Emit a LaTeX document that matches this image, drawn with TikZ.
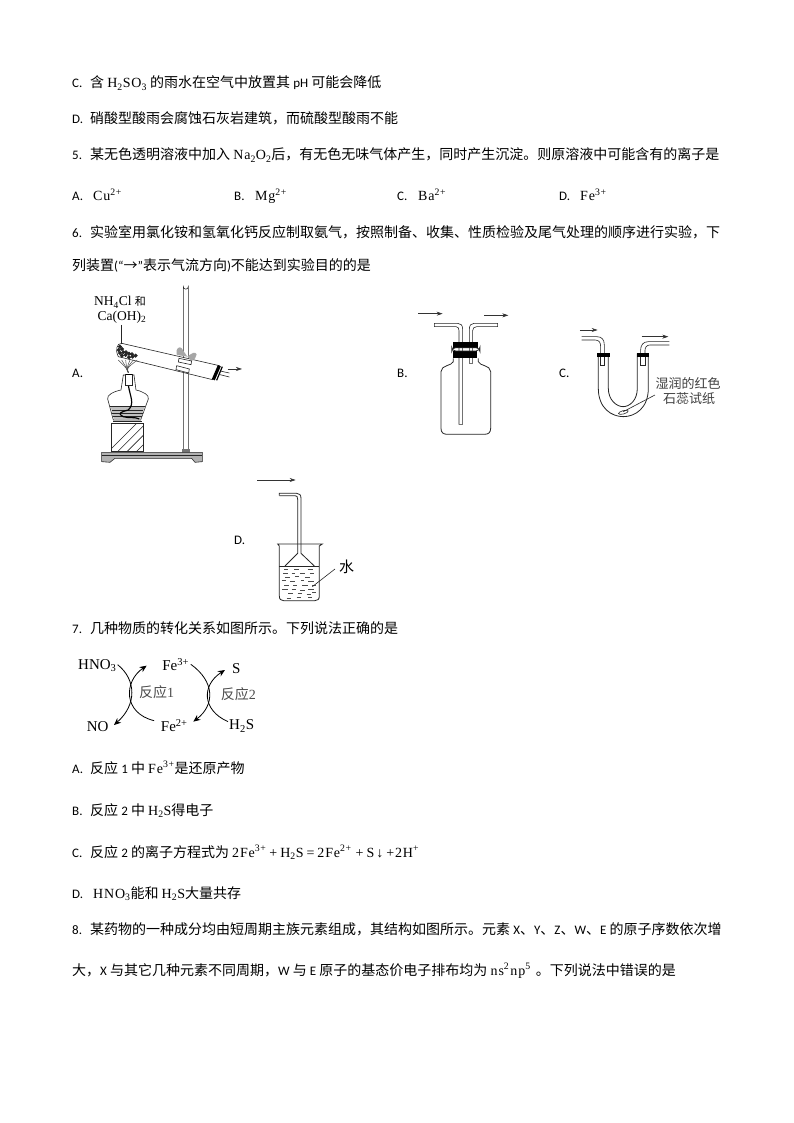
\documentclass[tikz,border=0pt]{standalone}
\usepackage{fontspec}
\usetikzlibrary{arrows.meta}
\setmainfont{Noto Sans CJK SC}
\newfontfamily\latf{Carlito}
\newfontfamily\chemf[LetterSpace=6]{Liberation Serif}
\newfontfamily\figf{Liberation Serif}
\newcommand\lab[1]{\makebox[18pt][l]{\latf\fontsize{13}{15}\selectfont #1}}
\newcommand\la[1]{{\latf\fontsize{13}{15}\selectfont #1}}
\newcommand\ch[1]{{\chemf #1}}
\newcommand\sbs[1]{\textsubscript{#1}}
\newcommand\sps[1]{\textsuperscript{#1}}
\tikzset{
  txt/.style={anchor=base west,inner sep=0pt,font=\fontsize{14}{16}\selectfont},
  optlab/.style={anchor=base west,inner sep=0pt,font=\latf\fontsize{13}{15}\selectfont},
  figtxt/.style={inner sep=0pt,font=\figf\fontsize{13.5}{14}\selectfont},
  cyctxt/.style={inner sep=0pt,font=\figf\fontsize{15}{16}\selectfont},
  smallcn/.style={inner sep=0pt,text=black!75,font=\fontsize{13}{13}\selectfont},
  ln/.style={line width=0.6pt,black!85},
  flow/.style={line width=0.6pt,black!80,-{Stealth[length=6pt,width=4pt]}},
  cyc/.style={line width=0.8pt,black,-{Stealth[length=7pt,width=6pt]}},
}
\begin{document}
\begin{tikzpicture}[x=1pt,y=-1pt]
\useasboundingbox (0,0) rectangle (794,1123);
\fill[white] (0,0) rectangle (794,1123);
% ---------- text lines
\node[txt] (t1) at (72,88) {\lab{C.}含 \ch{H\sbs{2}SO\sbs{3}} 的雨水在空气中放置其 \la{pH} 可能会降低};
\node[txt] (t2) at (72,124) {\lab{D.}硝酸型酸雨会腐蚀石灰岩建筑，而硫酸型酸雨不能};
\node[txt] (t3) at (72,160) {\lab{5.}某无色透明溶液中加入 \ch{Na\sbs{2}O\sbs{2}}后，有无色无味气体产生，同时产生沉淀。则原溶液中可能含有的离子是};
\node[txt] (o1) at (72,201) {\lab{A.}\hspace{3pt}\ch{Cu\sps{2+}}};
\node[txt] (o2) at (234,201) {\lab{B.}\hspace{3pt}\ch{Mg\sps{2+}}};
\node[txt] (o3) at (397,201) {\lab{C.}\hspace{3pt}\ch{Ba\sps{2+}}};
\node[txt] (o4) at (559,201) {\lab{D.}\hspace{3pt}\ch{Fe\sps{3+}}};
\node[txt] (t4) at (72,237) {\lab{6.}实验室用氯化铵和氢氧化钙反应制取氨气，按照制备、收集、性质检验及尾气处理的顺序进行实验，下};
\node[txt] (t5) at (72,270) {列装置\la{(“}→\la{”}表示气流方向\la{)}不能达到实验目的的是};
\node[txt] (t6) at (72,633) {\lab{7.}几种物质的转化关系如图所示。下列说法正确的是};
\node[txt] (t7) at (72,773) {\lab{A.}反应 \la{1} 中 \ch{Fe\sps{3+}}是还原产物};
\node[txt] (t8) at (72,815) {\lab{B.}反应 \la{2} 中 \ch{H\sbs{2}S}得电子};
\node[txt] (t9) at (72,857) {\lab{C.}反应 \la{2} 的离子方程式为 \ch{2Fe\sps{3+}\hspace{3pt}+\hspace{3pt}H\sbs{2}S\hspace{3pt}=\hspace{3pt}2Fe\sps{2+}\hspace{4pt}+\hspace{3pt}S\hspace{2pt}↓\hspace{3pt}+2H\sps{+}}};
\node[txt] (t10) at (72,898) {\lab{D.}\hspace{3pt}\ch{HNO\sbs{3}}能和 \ch{H\sbs{2}S}大量共存};
\node[txt] (t11) at (72,934) {\lab{8.}某药物的一种成分均由短周期主族元素组成，其结构如图所示。元素 \la{X}、\la{Y}、\la{Z}、\la{W}、\la{E} 的原子序数依次增};
\node[txt] (t12) at (72,975) {大，\la{X} 与其它几种元素不同周期，\la{W} 与 \la{E} 原子的基态价电子排布均为 \ch{n\hspace{1pt}s\sps{2}\hspace{1pt}n\hspace{1pt}p\sps{5}} \hspace{2pt}。下列说法中错误的是};
% ---------- apparatus A
\node[optlab] (la) at (72,377) {A.};
\begin{scope}[shift={(60,275)},scale=0.3333]
  % stand
  \filldraw[ln,fill=white] (370,525) -- (370,35) arc[start angle=180,end angle=0,radius=7.5] -- (385,525);
  \fill[black!55] (366,522) rectangle (389,533);
  \filldraw[ln,fill=black!30] (125,532) -- (427,532) -- (427,560) -- (405,562) -- (395,550) -- (165,550) -- (150,562) -- (125,560) -- cycle;
  \draw[ln] (125,542) -- (427,542);
  % block
  \begin{scope}
    \clip (155,445) rectangle (250,530);
    \foreach \d in {0,28,...,200} \draw[ln] (140+\d,535) -- (140+\d+110,425);
  \end{scope}
  \draw[ln,line width=0.9pt] (155,445) rectangle (250,530);
  % lamp
  \filldraw[ln,fill=white] (183,345) -- (190,300) -- (222,300) -- (228,345) .. controls (250,350) and (268,360) .. (265,372) -- (242,435) -- (160,435) -- (143,372) .. controls (140,360) and (160,350) .. (183,345) -- cycle;
  \fill[black!25] (152,395) -- (254,395) -- (242,433) -- (162,433) -- cycle;
  \foreach \yy/\a/\b in {395/150/255,405/155/250,415/157/248,425/160/245} \draw[ln] (\a,\yy) -- (\b,\yy);
  \draw[ln] (160,440) -- (245,440);
  \draw[line width=1.2pt] (205,330) .. controls (210,365) and (225,385) .. (205,405) .. controls (185,410) and (170,415) .. (190,425) .. controls (205,430) and (225,425) .. (238,432);
  \filldraw[ln,fill=white] (197,298) rectangle (217,330);
  \fill[black] (197,296) rectangle (217,300);
  % test tube
  \filldraw[ln,fill=white] (185,205) -- (478,272) -- (458,314) -- (175,245) .. controls (165,225) and (170,205) .. (185,205) -- cycle;
  % flame
  \foreach \tx in {175,185,197,210,220,232} \draw[line width=0.5pt,black!70] (205,293) .. controls (200,280) .. (\tx,255);
  \foreach \bx/\by in {180/215,176/225,186/222,180/234,190/232,186/242,197/240,207/236,207/247,218/245,216/238,227/242,198/232} \filldraw[fill=white,line width=0.6pt,black!85] (\bx,\by) circle[radius=5];
  % stopper and outlet
  \draw[line width=3.2pt] (478,272) -- (460,314);
  \draw[line width=1.2pt] (487,275) -- (470,316);
  \draw[ln] (480,288) -- (508,294);
  \draw[ln] (476,298) -- (508,306);
  % clamp
  \fill[black!35] (350,238) .. controls (345,220) and (360,212) .. (365,220) .. controls (372,232) .. (382,245) -- (352,240) -- cycle;
  \fill[black!35] (382,245) .. controls (395,235) and (405,228) .. (410,238) .. controls (410,248) and (402,255) .. (395,258) -- cycle;
  \filldraw[ln,fill=white] (357,250) -- (395,258) -- (393,269) -- (355,261) -- cycle;
  \filldraw[ln,fill=white] (350,272) -- (388,282) -- (386,294) -- (348,284) -- cycle;
  \coordinate (aArrS) at (503,282); \coordinate (aArrE) at (546,282);
  \draw[flow] (aArrS) -- (aArrE);
  \coordinate (aLeadT) at (185,150); \coordinate (aLeadB) at (185,207);
  \draw[ln] (aLeadT) -- (aLeadB);
  \node[figtxt] (aT1) at (180,82) {NH\sbs{4}Cl {\fontspec{Noto Sans CJK SC}\fontsize{11}{12}\selectfont 和}};
  \node[figtxt] (aT2) at (186,127) {Ca(OH)\sbs{2}};
\end{scope}
% ---------- apparatus B, C
\node[optlab] (lb) at (397,377) {B.};
\node[optlab] (lc) at (559,377) {C.};
\begin{scope}[shift={(390,300)},scale=0.3333]
  \draw[flow] (85,41) -- (158,41);
  \draw[flow] (283,46) -- (355,46);
  \draw[ln,line width=0.8pt] (190,175) -- (190,185) .. controls (185,198) and (153,195) .. (153,215) -- (153,385) .. controls (153,398) and (160,403) .. (172,403) -- (283,403) .. controls (295,403) and (302,398) .. (302,385) -- (302,215) .. controls (302,195) and (268,198) .. (265,185) -- (265,175);
  \filldraw[ln,fill=white] (218,373) -- (218,88) .. controls (218,75) and (212,70) .. (203,70) -- (133,70) -- (133,80) -- (198,80) .. controls (205,80) and (207,85) .. (207,92) -- (207,373) -- cycle;
  \filldraw[ln,fill=white] (248,190) -- (248,92) .. controls (248,85) and (252,80) .. (260,80) -- (323,80) -- (323,70) -- (252,70) .. controls (243,70) and (238,76) .. (238,88) -- (238,190) -- cycle;
  \fill[black] (190,125) rectangle (265,143);
  \fill[black] (190,153) rectangle (262,175);
  \draw[ln,rounded corners=4pt,line width=0.8pt] (185,143) rectangle (270,153);
  % C
  \draw[flow] (570,90) -- (623,90);
  \draw[flow] (755,110) -- (835,110);
  \draw[ln,line width=0.8pt] (625,160) -- (625,265) .. controls (625,325) and (665,350) .. (700,350) .. controls (735,350) and (775,325) .. (775,265) -- (775,160);
  \draw[ln,line width=0.8pt] (655,160) -- (655,265) .. controls (655,300) and (680,320) .. (699,320) .. controls (720,320) and (742,300) .. (742,265) -- (742,160);
  \draw[ln] (575,110) -- (620,110) .. controls (635,110) and (643,118) .. (643,135) -- (643,160);
  \draw[ln] (575,120) -- (615,120) .. controls (628,120) and (632,128) .. (632,140) -- (632,160);
  \draw[ln] (838,125) -- (775,125) .. controls (760,125) and (752,135) .. (752,150) -- (752,160);
  \draw[ln] (838,135) -- (780,135) .. controls (770,135) and (765,142) .. (765,152) -- (765,160);
  \fill[black] (622,160) rectangle (660,170);
  \fill[black] (740,160) rectangle (777,170);
  \draw[ln] (632,170) -- (632,195) -- (643,195) -- (643,170);
  \draw[ln] (752,170) -- (752,195) -- (765,195) -- (765,170);
  \draw[ln,rotate around={15:(700,337)}] (700,337) ellipse[x radius=15,y radius=5];
  \coordinate (cLeadA) at (700,335); \coordinate (cLeadB) at (795,285);
  \draw[ln] (cLeadA) -- (cLeadB);
\end{scope}
\node[smallcn] (c1) at (688,384) {湿润的红色};
\node[smallcn] (c2) at (689,399) {石蕊试纸};
% ---------- apparatus D
\node[optlab] (ld) at (234,544) {D.};
\begin{scope}[shift={(225,470)},scale=0.3333]
  \draw[flow] (97,30) -- (212,30);
  \draw[ln,line width=0.8pt] (163,77) -- (163,70) -- (215,70) .. controls (224,70) and (228,75) .. (228,85) -- (228,250) -- (268,288);
  \draw[ln,line width=0.8pt] (163,77) -- (210,77) .. controls (216,77) and (218,80) .. (218,88) -- (218,250) -- (180,288);
  \draw[ln,line width=0.8pt] (158,222) -- (163,228) -- (163,378) .. controls (163,388) and (168,392) .. (176,392) -- (270,392) .. controls (278,392) and (283,388) .. (283,378) -- (283,228) -- (292,222) -- cycle;
  \draw[ln,line width=0.8pt] (163,288) -- (283,288);
  \foreach \xa/\yy/\w in {178/298/12,208/298/14,248/298/16,175/310/14,200/310/10,225/310/16,255/310/12,180/322/16,210/320/12,240/322/14,170/332/12,195/334/16,228/332/10,250/334/18,178/346/14,205/346/12,232/346/16,262/346/12,172/358/16,200/358/12,225/360/14,250/358/16,190/370/14,218/370/12,245/372/14,262/368/12,185/384/12,215/382/14,250/382/12}
    \draw[line width=0.7pt,black!70] (\xa,\yy) -- (\xa+\w,\yy);
  \coordinate (dLeadA) at (262,350); \coordinate (dLeadB) at (330,297);
  \draw[ln] (dLeadA) -- (dLeadB);
  \node[inner sep=0pt,font=\fontsize{15}{16}\selectfont] (dT) at (365,291) {水};
\end{scope}
% ---------- cycle diagram
\begin{scope}[shift={(65,650)},scale=0.3333]
  \node[cyctxt] (hno) at (97,47) {HNO\sbs{3}};
  \node[cyctxt] (fe3) at (332,43) {Fe\sps{3+}};
  \node[cyctxt] (s) at (514,56) {S};
  \node[cyctxt] (no) at (98,230) {NO};
  \node[cyctxt] (fe2) at (328,227) {Fe\sps{2+}};
  \node[cyctxt] (h2s) at (530,228) {H\sbs{2}S};
  \node[inner sep=0pt,text=black!70,font=\fontsize{14}{15}\selectfont] (r1) at (275,128) {反应{\figf 1}};
  \node[inner sep=0pt,text=black!70,font=\fontsize{14}{15}\selectfont] (r2) at (520,134) {反应{\figf 2}};
  \draw[cyc] (hno.east) ++(3,-3) .. controls (215,90) and (215,165) .. (147,225);
  \draw[cyc] (fe2.west) ++(-20,-15) .. controls (175,190) and (175,95) .. (245,47);
  \draw[cyc] (fe3.east) ++(5,0) .. controls (450,95) and (450,165) .. (385,215);
  \draw[cyc] (h2s.west) ++(-3,-13) .. controls (410,180) and (410,105) .. (480,60);
\end{scope}
\end{tikzpicture}
\end{document}
